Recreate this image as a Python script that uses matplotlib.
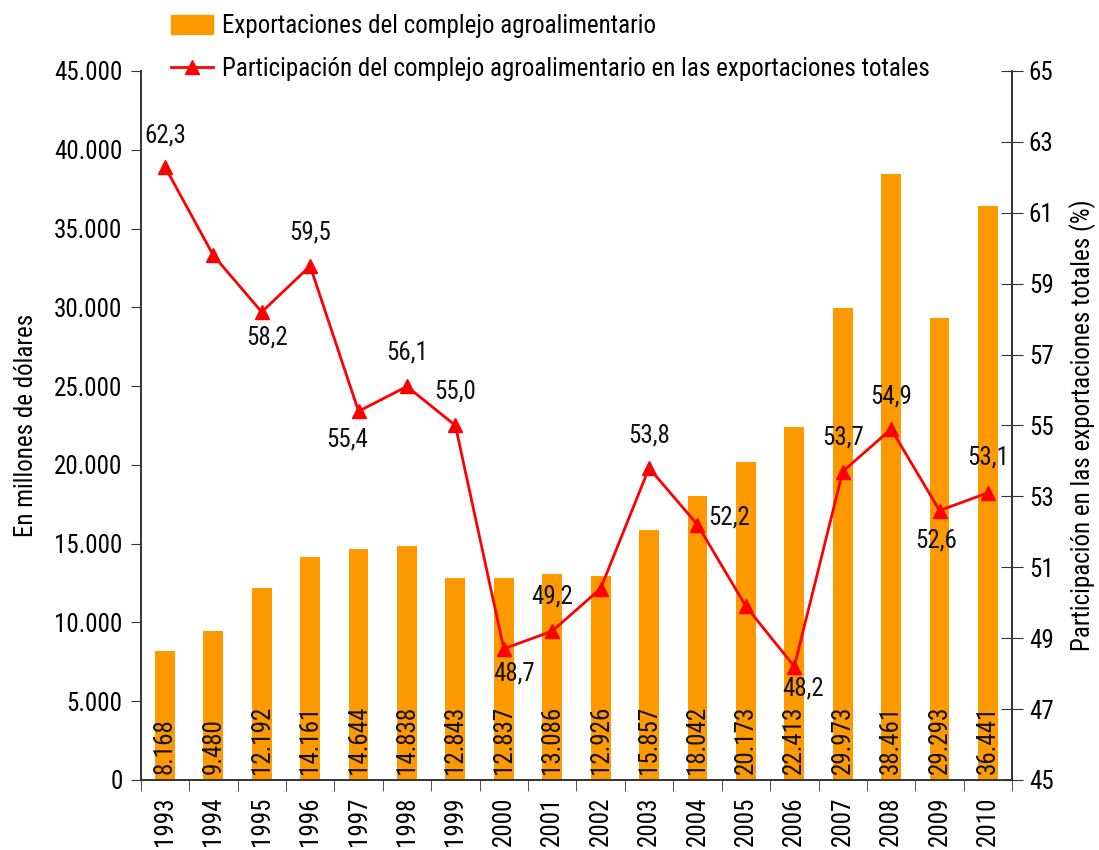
import matplotlib
matplotlib.use("Agg")
import matplotlib.pyplot as plt
from matplotlib import font_manager
from matplotlib.ticker import FuncFormatter, MultipleLocator, FixedLocator
from matplotlib.patches import Patch
from matplotlib.lines import Line2D

# Data
years = [1993, 1994, 1995, 1996, 1997, 1998, 1999, 2000, 2001, 2002,
         2003, 2004, 2005, 2006, 2007, 2008, 2009, 2010]
exports = [8168, 9480, 12192, 14161, 14644, 14838, 12843, 12837, 13086, 12926,
           15857, 18042, 20173, 22413, 29973, 38461, 29293, 36441]
share = [62.3, 59.8, 58.2, 59.5, 55.4, 56.1, 55.0, 48.7, 49.2, 50.4,
         53.8, 52.2, 49.9, 48.2, 53.7, 54.9, 52.6, 53.1]
# None = no label drawn for that point
share_labels = ["62,3", None, "58,2", "59,5", "55,4", "56,1", "55,0", "48,7", "49,2", None,
                "53,8", "52,2", None, "48,2", "53,7", "54,9", "52,6", "53,1"]
# label offsets in pixels (dx, dy) relative to each point
label_offsets = [(0, 31), None, (5, -25), (0, 33), (-11, -28), (0, 34), (0, 34), (10, -25), (0, 35), None,
                 (0, 33), (32, 7), None, (9, -22), (0, 34), (0, 33), (-3, -30), (0, 35)]

BAR_COLOR = "#FF9900"
LINE_COLOR = "#FF0000"

# pick a narrow font if one is there (the original uses an Arial Narrow look)
entries = font_manager.fontManager.ttflist
names = {f.name for f in entries}
family, stretch, FS = "Liberation Sans", "normal", 16.5
for cand in ["Liberation Sans Narrow", "Arial Narrow", "Roboto Condensed", "Noto Sans Condensed",
             "Open Sans Condensed", "DejaVu Sans Condensed"]:
    if cand in names:
        family, stretch, FS = cand, "normal", 18
        break
else:
    for cand in ["Noto Sans", "Roboto", "Open Sans", "DejaVu Sans"]:
        if any(f.name == cand and f.stretch in ("condensed", "semi-condensed", 500, 375)
               for f in entries):
            family, stretch, FS = cand, "condensed", 18
            break
plt.rcParams["font.family"] = [family, "DejaVu Sans"]
plt.rcParams["font.stretch"] = stretch

fig = plt.figure(figsize=(10.99, 8.5), dpi=100)
ax = fig.add_axes([0.128, 0.0824, 0.793, 0.8341])
ax2 = ax.twinx()

x = list(range(len(years)))
ax.bar(x, exports, width=0.41, color=BAR_COLOR, zorder=2)
for xi, v in zip(x, exports):
    ax.text(xi, 400, f"{v:,}".replace(",", "."), rotation=90, ha="center", va="bottom",
            fontsize=FS, color="#111111", zorder=3)

ax.set_ylim(0, 45000)
ax.set_xlim(-0.5, len(years) - 0.5)
ax.yaxis.set_major_locator(MultipleLocator(5000))
ax.yaxis.set_major_formatter(FuncFormatter(lambda v, p: f"{int(v):,}".replace(",", ".")))
ax.set_xticks(x)
ax.set_xticklabels([str(y) for y in years], rotation=90, fontsize=FS)
ax.xaxis.set_minor_locator(FixedLocator([i - 0.5 for i in range(len(years) + 1)]))
ax.tick_params(axis="x", which="major", length=0, pad=12)
ax.tick_params(axis="x", which="minor", length=8, direction="out", color="#333333")
ax.tick_params(axis="y", length=7, direction="out", labelsize=FS, color="#333333", pad=6)
ax.set_ylabel("En millones de dólares", fontsize=FS, labelpad=12)

ax2.plot(x, share, color=LINE_COLOR, linewidth=2, marker="^", markersize=10, zorder=4)
ax2.set_ylim(45, 65)
ax2.yaxis.set_major_locator(FixedLocator(list(range(45, 66, 2))))
ax2.tick_params(axis="y", length=16, direction="inout", labelsize=FS, color="#333333", pad=4)
ax2.set_ylabel("Participación en las exportaciones totales (%)", fontsize=FS, labelpad=11)

for xi, v, lab, off in zip(x, share, share_labels, label_offsets):
    if lab is None:
        continue
    ax2.annotate(lab, (xi, v), xytext=off, textcoords="offset pixels",
                 ha="center", va="center", fontsize=FS, color="#111111")

for a in (ax, ax2):
    a.spines["top"].set_visible(False)
    for s in ("left", "right", "bottom"):
        a.spines[s].set_color("#333333")
        a.spines[s].set_linewidth(1.2)

# legend
handles = [Patch(color=BAR_COLOR),
           Line2D([0], [0], color=LINE_COLOR, linewidth=2, marker="^", markersize=10)]
labels = ["Exportaciones del complejo agroalimentario",
          "Participación del complejo agroalimentario en las exportaciones totales"]
fig.legend(handles, labels, loc="upper left", bbox_to_anchor=(0.135, 1.01), frameon=False,
           fontsize=FS, handlelength=1.7, handleheight=0.8, labelspacing=0.75, handletextpad=0.35)

fig.savefig("out.png", dpi=100)
